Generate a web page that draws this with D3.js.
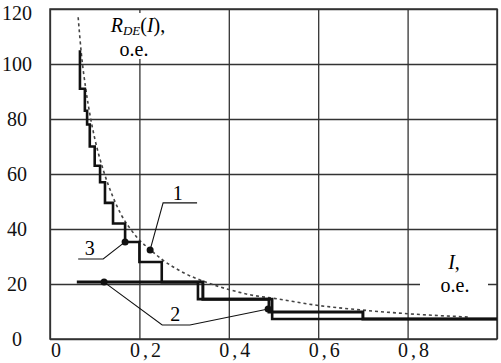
<!DOCTYPE html>
<html>
  <head>
    <meta charset="utf-8" />
    <title>R_DE(I)</title>
    <script src="https://d3js.org/d3.v7.min.js"></script>
  </head>

  <style>
    body {
      background: #fff;
      margin: 0px;
      padding: 0px;
      overflow: hidden;
    }
    svg text { font-family: 'Liberation Serif', 'Times New Roman', 'DejaVu Serif', serif; }
    .grid line, .grid path { stroke: #333; stroke-width: 1.3; }
    .lbl text { font-size: 20px; fill: #111; }
  </style>

  <body>
    <script>

      // values
      var xTicks = [0, 0.2, 0.4, 0.6, 0.8, 1.0];
      var xTickLabels = ["0", "0,2", "0,4", "0,6", "0,8", ""];
      var yTicks = [0, 20, 40, 60, 80, 100, 120];

      // curve 1: dotted R_DE(I)
      var curve1I = [0.063, 0.07, 0.08, 0.09, 0.1, 0.12, 0.14, 0.16, 0.18, 0.2, 0.225, 0.25, 0.3, 0.35, 0.4, 0.45, 0.5, 0.6, 0.7, 0.8, 0.935];
      var curve1R = [117, 104, 91, 81, 73, 61, 52, 45, 40, 36, 32.4, 29, 24, 20.6, 18, 16, 14.8, 12.2, 10.5, 9.2, 8];

      // curve 3: fine staircase (vertical step first)
      var curve3I = [0.067, 0.078, 0.083, 0.089, 0.1, 0.112, 0.123, 0.141, 0.168, 0.2, 0.25, 0.331, 0.497, 1.0];
      var curve3R = [105, 91, 83, 78, 70, 63, 57, 49.5, 42, 35.3, 28, 20.7, 14.5, 7.3];

      // curve 2: coarse steps
      var curve2I = [0.06, 0.342, 0.49, 0.70, 1.0];
      var curve2R = [20.7, 20.7, 14.5, 9.8, 7.3];

      var width = 501, height = 363;
      var x = d3.scaleLinear().domain([0, 1]).range([50, 497]);
      var y = d3.scaleLinear().domain([0, 120]).range([339, 9]);

      var svg = d3.select("body").append("svg")
        .attr("width", width)
        .attr("height", height);

      // grid
      svg.append("g")
        .attr("class", "grid")
        .attr("transform", "translate(0," + y(0) + ")")
        .call(d3.axisBottom(x).tickValues(xTicks).tickSize(-(y(0) - y(120))).tickFormat("").tickSizeOuter(0));
      svg.append("g")
        .attr("class", "grid")
        .attr("transform", "translate(" + x(0) + ",0)")
        .call(d3.axisLeft(y).tickValues(yTicks).tickSize(-(x(1) - x(0))).tickFormat("").tickSizeOuter(0));
      svg.selectAll(".grid .domain").remove();

      // tick labels
      var xl = svg.append("g")
        .attr("class", "lbl")
        .attr("transform", "translate(0," + y(0) + ")")
        .call(d3.axisBottom(x).tickValues(xTicks).tickSize(0).tickPadding(0)
          .tickFormat(function(d, i) { return xTickLabels[i]; }));
      xl.select(".domain").remove();
      xl.attr("font-family", null);
      xl.selectAll("text")
        .attr("dy", null)
        .attr("y", 18)
        .attr("dx", 7)
        .style("letter-spacing", "3px");

      var yl = svg.append("g")
        .attr("class", "lbl")
        .attr("transform", "translate(17,0)")
        .call(d3.axisLeft(y).tickValues(yTicks).tickSize(0).tickPadding(0));
      yl.select(".domain").remove();
      yl.attr("font-family", null);
      yl.selectAll("text")
        .attr("text-anchor", "middle")
        .attr("x", 0)
        .attr("dy", function(d) { return d == 120 ? "0.5em" : "0.32em"; });

      // white boxes behind axis titles
      svg.append("rect").attr("x", 100).attr("y", 13).attr("width", 75).attr("height", 46).attr("fill", "#fff");
      svg.append("rect").attr("x", 420).attr("y", 246).attr("width", 68).attr("height", 52).attr("fill", "#fff");

      // axis titles
      var tY = svg.append("text")
        .attr("x", 138).attr("y", 32)
        .attr("text-anchor", "middle")
        .style("font-size", "20px");
      tY.append("tspan").style("font-style", "italic").text("R");
      tY.append("tspan").style("font-style", "italic").style("font-size", "13px").attr("dy", 3).text("DE");
      tY.append("tspan").attr("dy", -3).text("(");
      tY.append("tspan").style("font-style", "italic").text("I");
      tY.append("tspan").text("),");
      svg.append("text")
        .attr("x", 134).attr("y", 56)
        .attr("text-anchor", "middle")
        .style("font-size", "20px")
        .text("o.e.");

      var tX = svg.append("text")
        .attr("x", 454).attr("y", 269)
        .attr("text-anchor", "middle")
        .style("font-size", "20px");
      tX.append("tspan").style("font-style", "italic").text("I");
      tX.append("tspan").text(",");
      svg.append("text")
        .attr("x", 455).attr("y", 292)
        .attr("text-anchor", "middle")
        .style("font-size", "20px")
        .text("o.e.");

      // frame
      svg.append("rect")
        .attr("x", x(0)).attr("y", y(120))
        .attr("width", x(1) - x(0)).attr("height", y(0) - y(120))
        .attr("fill", "none").attr("stroke", "#333").attr("stroke-width", 1.5);

      // curves
      var line1 = d3.line().curve(d3.curveMonotoneX)
        .x(function(d, i) { return x(curve1I[i]); })
        .y(function(d) { return y(d); });
      svg.append("path")
        .datum(curve1R)
        .attr("d", line1)
        .attr("fill", "none")
        .attr("stroke", "#444")
        .attr("stroke-width", 1.6)
        .attr("stroke-dasharray", "3,3");

      var line3 = d3.line().curve(d3.curveStepBefore)
        .x(function(d, i) { return x(curve3I[i]); })
        .y(function(d) { return y(d); });
      svg.append("path")
        .datum(curve3R)
        .attr("d", line3)
        .attr("fill", "none")
        .attr("stroke", "#111")
        .attr("stroke-width", 2.6);

      var line2 = d3.line().curve(d3.curveStepBefore)
        .x(function(d, i) { return x(curve2I[i]); })
        .y(function(d) { return y(d); });
      svg.append("path")
        .datum(curve2R)
        .attr("d", line2)
        .attr("fill", "none")
        .attr("stroke", "#111")
        .attr("stroke-width", 3);

      // callouts
      var lead = d3.line().x(function(d) { return x(d[0]); }).y(function(d) { return y(d[1]); });
      var callouts = [
        { name: "1", pts: [[0.224, 32.4], [0.253, 49.5], [0.329, 49.5]], at: [0.286, 50.4] },
        { name: "3", pts: [[0.168, 35.3], [0.119, 29.1], [0.063, 29.1]], at: [0.089, 30.4] },
        { name: "2", pts: [[0.121, 20.7], [0.251, 5.1], [0.313, 5.1], [0.488, 10.9]], at: [0.28, 6.6] }
      ];
      callouts.forEach(function(c) {
        svg.append("path")
          .attr("d", lead(c.pts))
          .attr("fill", "none")
          .attr("stroke", "#111")
          .attr("stroke-width", 1.1);
        svg.append("circle")
          .attr("cx", x(c.pts[0][0])).attr("cy", y(c.pts[0][1]))
          .attr("r", 3.5).attr("fill", "#111");
        if (c.name == "2") {
          var last = c.pts[c.pts.length - 1];
          svg.append("circle")
            .attr("cx", x(last[0])).attr("cy", y(last[1]))
            .attr("r", 3.5).attr("fill", "#111");
        }
        svg.append("text")
          .attr("x", x(c.at[0])).attr("y", y(c.at[1]))
          .attr("text-anchor", "middle")
          .style("font-size", "20px")
          .text(c.name);
      });

    </script>
  </body>
</html>
